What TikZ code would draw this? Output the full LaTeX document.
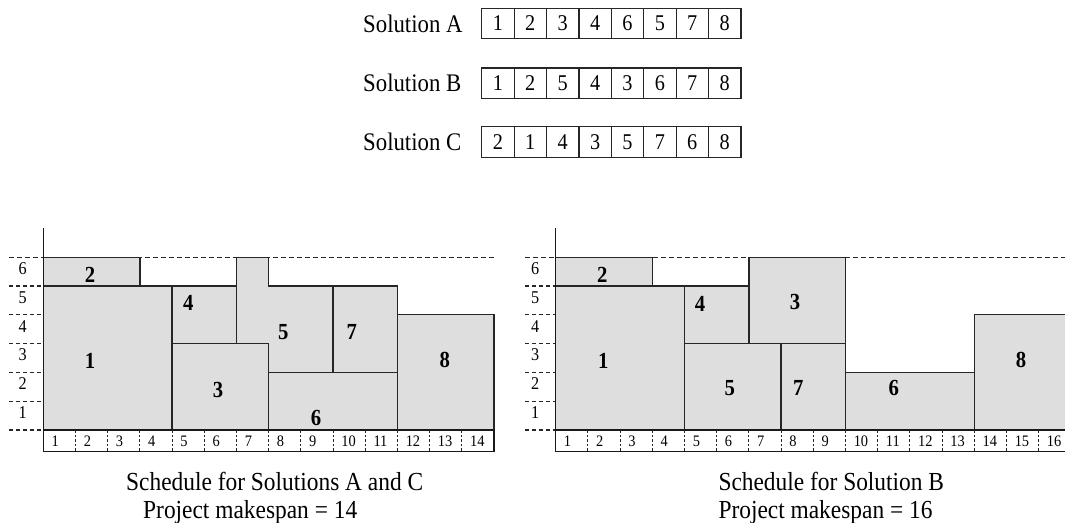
\documentclass[tikz,border=0pt]{standalone}
\usepackage{fontspec}
\setmainfont{Liberation Serif}[FakeStretch=0.9]
\tikzset{
  box/.style={draw=black!85, line width=1.3pt, fill=black!13, line join=miter},
  lbl/.style={font=\fontsize{23}{23}\selectfont\bfseries, inner sep=0},
  cell/.style={draw=black!85, line width=1.2pt, minimum width=32.4pt, minimum height=30.5pt, inner sep=0, font=\fontsize{22.5}{22.5}\selectfont},
  rowlbl/.style={anchor=base west, inner sep=0, font=\fontsize{25.3}{25.3}\selectfont},
  captext/.style={anchor=base west, inner sep=0, font=\fontsize{26}{26}\selectfont},
  ylab/.style={font=\fontsize{18}{18}\selectfont, inner sep=0},
  tlab/.style={anchor=west, font=\fontsize{16}{16}\selectfont, inner sep=0},
  ydash/.style={draw=black!85, line width=1.1pt, dash pattern=on 4pt off 3pt},
  topdash/.style={draw=black!85, line width=1.1pt, dash pattern=on 5pt off 3pt},
  tdiv/.style={draw=black!85, line width=0.9pt, dash pattern=on 2.5pt off 2pt},
  axisline/.style={draw=black!90, line width=1.4pt},
}
\begin{document}
\begin{tikzpicture}[x=1pt,y=-1pt]
\useasboundingbox (0,0) rectangle (1065,522);
\clip (0,0) rectangle (1065,522);

% ---- solutions ----
\node[rowlbl] (solA) at (363,32) {Solution A};
\node[rowlbl] (solB) at (363,91.5) {Solution B};
\node[rowlbl] (solC) at (363,150.5) {Solution C};
\foreach \v [count=\i] in {1,2,3,4,6,5,7,8}
  \node[cell] (A\i) at ({481.7+32.4*(\i-0.5)},23.5) {\v};
\foreach \v [count=\i] in {1,2,5,4,3,6,7,8}
  \node[cell] (B\i) at ({481.7+32.4*(\i-0.5)},83.3) {\v};
\foreach \v [count=\i] in {2,1,4,3,5,7,6,8}
  \node[cell] (C\i) at ({481.7+32.4*(\i-0.5)},142) {\v};

% ---- left chart ----
\begin{scope}[shift={(43.3,430)}, x=32.2pt, y=28.8pt]
  \foreach \j in {0,...,5} \draw[ydash] (-1.07,\j) -- (0,\j);
  \draw[topdash] (-1.07,6) -- (14,6);
  \draw[box] (0,0) rectangle (4,5);
  \draw[box] (0,5) rectangle (3,6);
  \draw[box] (4,3) rectangle (6,5);
  \draw[box] (4,0) rectangle (7,3);
  \draw[box] (6,3) -- (6,6) -- (7,6) -- (7,5) -- (9,5) -- (9,2) -- (7,2) -- (7,3) -- cycle;
  \draw[box] (9,2) rectangle (11,5);
  \draw[box] (7,0) rectangle (11,2);
  \draw[box] (11,0) rectangle (14,4);
  \draw[axisline] (0,7) -- (0,-0.75) -- (14,-0.75) -- (14,0);
  \draw[axisline] (0,0) -- (14,0);
  \foreach \i in {1,...,13} \draw[tdiv] (\i,0) -- (\i,-0.75);
  \foreach \i in {1,...,14} \node[tlab] (Lt\i) at (\i-0.75,-0.4) {\i};
  \foreach \j in {1,...,6} \node[ylab] (Ly\j) at (-0.64,\j-0.4) {\j};
  \node[lbl] (L1) at (1.45,2.4) {1};
  \node[lbl] (L2) at (1.45,5.4) {2};
  \node[lbl] (L3) at (5.43,1.39) {3};
  \node[lbl] (L4) at (4.5,4.4) {4};
  \node[lbl] (L5) at (7.45,3.41) {5};
  \node[lbl] (L6) at (8.47,0.43) {6};
  \node[lbl] (L7) at (9.58,3.41) {7};
  \node[lbl] (L8) at (12.47,2.43) {8};
\end{scope}

% ---- right chart ----
\begin{scope}[shift={(555.7,430)}, x=32.2pt, y=28.8pt]
  \foreach \j in {0,...,5} \draw[ydash] (-0.95,\j) -- (0,\j);
  \draw[topdash] (-0.95,6) -- (16.5,6);
  \draw[box] (0,0) rectangle (4,5);
  \draw[box] (0,5) rectangle (3,6);
  \draw[box] (4,3) rectangle (6,5);
  \draw[box] (4,0) rectangle (7,3);
  \draw[box] (6,3) rectangle (9,6);
  \draw[box] (7,0) rectangle (9,3);
  \draw[box] (9,0) rectangle (13,2);
  \draw[box] (13,0) rectangle (16,4);
  \draw[axisline] (0,7) -- (0,-0.75) -- (16,-0.75) -- (16,0);
  \draw[axisline] (0,0) -- (16,0);
  \foreach \i in {1,...,15} \draw[tdiv] (\i,0) -- (\i,-0.75);
  \foreach \i in {1,...,16} \node[tlab] (Rt\i) at (\i-0.75,-0.4) {\i};
  \foreach \j in {1,...,6} \node[ylab] (Ry\j) at (-0.64,\j-0.4) {\j};
  \node[lbl] (R1) at (1.48,2.4) {1};
  \node[lbl] (R2) at (1.45,5.4) {2};
  \node[lbl] (R3) at (7.43,4.43) {3};
  \node[lbl] (R4) at (4.48,4.37) {4};
  \node[lbl] (R5) at (5.41,1.45) {5};
  \node[lbl] (R6) at (10.5,1.45) {6};
  \node[lbl] (R7) at (7.53,1.45) {7};
  \node[lbl] (R8) at (14.45,2.43) {8};
\end{scope}

% ---- captions ----
\node[captext] (capL1) at (126,490) {Schedule for Solutions A and C};
\node[captext] (capL2) at (143,518) {Project makespan = 14};
\node[captext] (capR1) at (718.3,490) {Schedule for Solution B};
\node[captext] (capR2) at (718.3,518) {Project makespan = 16};
\end{tikzpicture}
\end{document}
